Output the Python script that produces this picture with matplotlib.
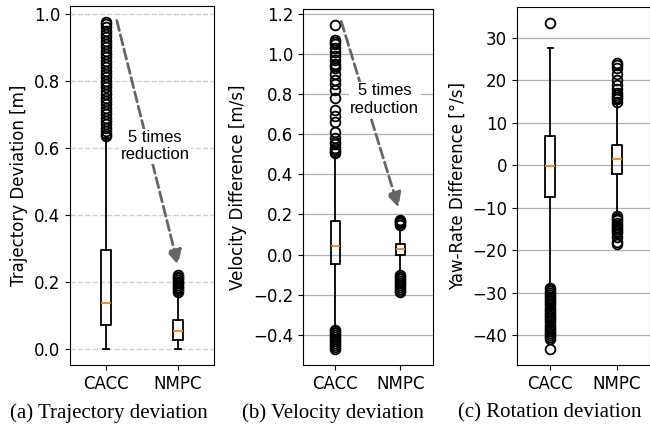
import matplotlib
matplotlib.use("Agg")
from matplotlib import pyplot as plt

labels = ["CACC", "NMPC"]

# (a) trajectory deviation [m]
traj_q1 = [0.07, 0.025]
traj_med = [0.135, 0.052]
traj_q3 = [0.295, 0.085]
traj_lo = [0.0, 0.0]
traj_hi = [0.63, 0.165]
traj_fliers = [
    [0.635, 0.64, 0.65, 0.66, 0.67, 0.68, 0.69, 0.70, 0.71, 0.72, 0.73, 0.74,
     0.75, 0.76, 0.77, 0.78, 0.79, 0.80, 0.81, 0.82, 0.83, 0.84, 0.85, 0.86,
     0.87, 0.88, 0.89, 0.90, 0.91, 0.92, 0.93, 0.94, 0.95, 0.96, 0.97, 0.975],
    [0.17, 0.175, 0.18, 0.185, 0.19, 0.195, 0.20, 0.205, 0.21, 0.215, 0.22],
]

# (b) velocity difference [m/s]
vel_q1 = [-0.045, -0.002]
vel_med = [0.045, 0.028]
vel_q3 = [0.17, 0.055]
vel_lo = [-0.365, -0.095]
vel_hi = [0.50, 0.14]
vel_fliers = [
    [0.505, 0.51, 0.52, 0.53, 0.55, 0.56, 0.58, 0.61, 0.66, 0.69, 0.72, 0.78,
     0.82, 0.85, 0.87, 0.90, 0.93, 0.94, 0.95, 0.97, 0.99, 1.01, 1.03, 1.05,
     1.06, 1.07, 1.145,
     -0.375, -0.38, -0.39, -0.40, -0.41, -0.42, -0.43, -0.44, -0.45, -0.46, -0.47],
    [0.15, 0.16, 0.165, 0.17, 0.175,
     -0.10, -0.11, -0.12, -0.13, -0.14, -0.15, -0.16, -0.17, -0.18, -0.185],
]

# (c) yaw-rate difference [deg/s]
yaw_q1 = [-7.5, -2.0]
yaw_med = [-0.2, 1.5]
yaw_q3 = [7.0, 4.8]
yaw_lo = [-28.5, -11.8]
yaw_hi = [27.6, 14.5]
yaw_fliers = [
    [33.5, -29.0, -29.5, -30.0, -30.5, -31.0, -31.5, -32.0, -32.5, -33.0, -33.5,
     -34.0, -34.5, -35.0, -35.5, -36.0, -36.5, -37.0, -37.5, -38.0, -38.5,
     -39.0, -39.5, -40.0, -40.5, -41.0, -43.2],
    [15.0, 15.5, 16.0, 16.5, 17.0, 18.0, 19.0, 20.0, 21.5, 23.0, 23.5, 24.0,
     -12.0, -12.5, -13.0, -13.5, -14.0, -14.5, -15.0, -15.5, -16.0, -17.0,
     -18.0, -18.5],
]


def make_stats(q1, med, q3, lo, hi, fl):
    out = []
    for i in range(len(labels)):
        out.append(dict(label=labels[i], q1=q1[i], med=med[i], q3=q3[i],
                        whislo=lo[i], whishi=hi[i], fliers=fl[i]))
    return out


plt.rcParams['font.family'] = 'DejaVu Sans'
plt.rcParams['font.size'] = 12

fig = plt.figure(figsize=(6.5, 4.26), dpi=100)
ax1 = fig.add_axes([0.1077, 0.1432, 0.2215, 0.843])
ax2 = fig.add_axes([0.466, 0.1432, 0.2, 0.836])
ax3 = fig.add_axes([0.7954, 0.1432, 0.2046, 0.841])

props = dict(
    flierprops=dict(marker='o', markersize=7, markeredgewidth=1.3),
    boxprops=dict(linewidth=1.3),
    whiskerprops=dict(linewidth=1.3),
    capprops=dict(linewidth=1.3),
    medianprops=dict(linewidth=1.3, color='#ff7f0e'),
)

ax1.bxp(make_stats(traj_q1, traj_med, traj_q3, traj_lo, traj_hi, traj_fliers), **props)
ax2.bxp(make_stats(vel_q1, vel_med, vel_q3, vel_lo, vel_hi, vel_fliers), **props)
ax3.bxp(make_stats(yaw_q1, yaw_med, yaw_q3, yaw_lo, yaw_hi, yaw_fliers), **props)

ax1.yaxis.grid(True, linestyle='--', color='#d0d0d0', linewidth=1)
ax2.yaxis.grid(True, color='#b0b0b0', linewidth=0.9)
ax3.yaxis.grid(True, color='#b0b0b0', linewidth=0.9)
for ax in (ax1, ax2, ax3):
    ax.set_axisbelow(True)

ax1.set_ylabel('Trajectory Deviation [m]')
ax2.set_ylabel('Velocity Difference [m/s]')
ax3.set_ylabel('Yaw-Rate Difference [°/s]')
ax1.set_yticks([0.0, 0.2, 0.4, 0.6, 0.8, 1.0])
ax2.set_yticks([-0.4, -0.2, 0.0, 0.2, 0.4, 0.6, 0.8, 1.0, 1.2])
ax3.set_yticks([-40, -30, -20, -10, 0, 10, 20, 30])

arrow = dict(arrowstyle='-|>', linestyle='--', color='#666666', lw=2,
             mutation_scale=22, shrinkA=0, shrinkB=0)
note_font = dict(family='Liberation Sans', fontsize=12, ha='center', va='center',
                 bbox=dict(facecolor='white', edgecolor='none', pad=1))
ax1.annotate('', xy=(2.0, 0.25), xytext=(1.15, 0.98), arrowprops=arrow)
ax1.text(1.68, 0.605, '5 times\nreduction', **note_font)
ax2.annotate('', xy=(1.97, 0.235), xytext=(1.09, 1.163), arrowprops=arrow)
ax2.text(1.76, 0.773, '5 times\nreduction', **note_font)

cap_font = dict(family='Liberation Serif', fontsize=15, ha='center', va='center')
fig.text(109 / 650, 1 - 413 / 426, '(a) Trajectory deviation', **cap_font)
fig.text(333 / 650, 1 - 413 / 426, '(b) Velocity deviation', **cap_font)
fig.text(550 / 650, 1 - 413 / 426, '(c) Rotation deviation', **cap_font)

fig.savefig('out.png', dpi=100)
